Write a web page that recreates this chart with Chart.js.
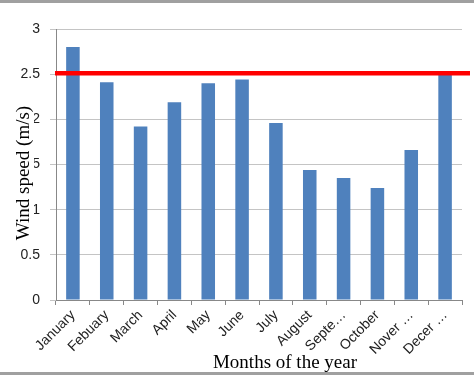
<!DOCTYPE html>
<html><head><meta charset="utf-8">
<script src="https://cdn.jsdelivr.net/npm/chart.js@4/dist/chart.umd.min.js"></script>
<style>html,body{margin:0;padding:0;background:#fff;overflow:hidden}</style>
</head><body>
<canvas id="c" width="474" height="375"></canvas>
<script>
const months = ['January','Febuary','March','April','May','June','July','August','Septe…','October','Nover …','Decer …'];
const windSpeed = [2.80, 2.41, 1.92, 2.19, 2.40, 2.44, 1.96, 1.44, 1.35, 1.24, 1.66, 2.50];
const yTickValues = [0, 0.5, 1, 1.5, 2, 2.5, 3];
const yTickLabels = ['0', '0.5', '1', '1.5', '2', '2.5', '3'];
const referenceLevel = 2.51;
const xTitle = 'Months of the year';
const yTitle = 'Wind speed (m/s)';

const tickFont = {family: "'Liberation Sans Narrow','Liberation Sans', sans-serif", size: 14};
const titleFont = "19px 'Liberation Serif', 'Times New Roman', serif";

const extras = {
  id: 'extras',
  beforeDraw(chart) {
    const c = chart.ctx;
    c.save();
    c.fillStyle = '#fff';
    c.fillRect(0, 0, chart.width, chart.height);
    c.restore();
  },
  afterDatasetsDraw(chart) {
    const c = chart.ctx, a = chart.chartArea;
    const y = chart.scales.y.getPixelForValue(referenceLevel);
    c.save();
    c.strokeStyle = '#ff0000';
    c.lineWidth = 4.5;
    c.beginPath();
    c.moveTo(a.left - 1, y);
    c.lineTo(470, y);
    c.stroke();
    c.restore();
  },
  afterDraw(chart) {
    const c = chart.ctx;
    c.save();
    c.font = titleFont;
    c.fillStyle = '#000';
    c.textAlign = 'center';
    c.textBaseline = 'alphabetic';
    c.fillText(xTitle, 285, 368);
    // y title with white backing box
    c.translate(24, 173);
    c.rotate(-Math.PI / 2);
    const w = c.measureText(yTitle).width;
    c.fillStyle = '#fff';
    c.fillRect(-w / 2 - 2, -10, w + 4, 20);
    c.fillStyle = '#000';
    c.textBaseline = 'middle';
    c.fillText(yTitle, 0, 0);
    c.restore();
    c.save();
    c.fillStyle = '#a0a0a0';
    c.fillRect(0, 0, chart.width, 3);
    c.fillRect(0, 372, chart.width, 3);
    c.restore();
  }
};

new Chart(document.getElementById('c'), {
  type: 'bar',
  data: {
    labels: months,
    datasets: [{
      data: windSpeed,
      backgroundColor: '#4f81bd',
      borderWidth: 0,
      barPercentage: 0.4,
      categoryPercentage: 1.0
    }]
  },
  options: {
    responsive: false,
    animation: false,
    layout: {padding: {top: 29, right: 12, left: 0, bottom: 0}},
    plugins: {legend: {display: false}, tooltip: {enabled: false}},
    scales: {
      x: {
        grid: {display: true, drawOnChartArea: false, drawTicks: true, tickLength: 5, color: '#888', offset: true},
        border: {display: true, color: '#888', width: 1},
        ticks: {font: tickFont, color: '#222', minRotation: 45, maxRotation: 45, padding: 2, autoSkip: false},
        afterFit(s) { s.height = 75; }
      },
      y: {
        min: 0, max: 3,
        afterBuildTicks(s) { s.ticks = yTickValues.map(v => ({value: v})); },
        grid: {color: '#c4c4c4', tickLength: 6, drawTicks: true},
        border: {display: true, color: '#888', width: 1},
        ticks: {
          font: tickFont, color: '#222', padding: 10,
          callback(v) { const i = yTickValues.indexOf(v); return i >= 0 ? yTickLabels[i] : ''; }
        },
        afterFit(s) { s.width = 56; }
      }
    }
  },
  plugins: [extras]
});
</script>
</body></html>
